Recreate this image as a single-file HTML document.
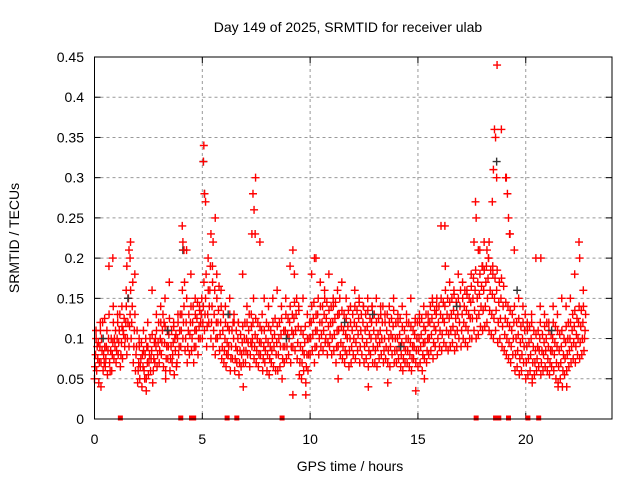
<!DOCTYPE html>
<html><head><meta charset="utf-8"><style>
body{margin:0;background:#fff;}
svg{display:block;font-family:"Liberation Sans",sans-serif;}
</style></head><body>
<svg id="chart" width="640" height="480">
<text x="348" y="32" text-anchor="middle" font-size="14">Day 149 of 2025, SRMTID for receiver ulab</text>
<text transform="translate(19,238) rotate(-90)" text-anchor="middle" font-size="14">SRMTID / TECUs</text>
<text x="350" y="471" text-anchor="middle" font-size="14">GPS time / hours</text>
<g id="grid"></g>
<g id="ticks"></g>
<g id="marks"></g>
<rect x="94.5" y="57" width="517.5" height="362" fill="none" stroke="#000" stroke-width="1"/>
</svg>
<script>
const xTicks=[0,5,10,15,20];
const yTicks=[0,0.05,0.1,0.15,0.2,0.25,0.3,0.35,0.4,0.45];
const yTickLabels=["0","0.05","0.1","0.15","0.2","0.25","0.3","0.35","0.4","0.45"];
const loVals=[.05,.06,.045,.07,.06,.065,.055,.07,.06,.075,.07,.08,.065,.075,.09,.08,.09,.1,.07,.06,
.045,.05,.04,.06,.05,.055,.06,.045,.07,.065,.07,.08,.065,.06,.075,.06,.07,.055,.065,.08,
.09,.1,.085,.07,.08,.085,.07,.09,.08,.1,.1,.11,.09,.12,.1,.09,.08,.1,.085,.075,
.07,.065,.08,.06,.075,.06,.07,.055,.065,.07,.07,.08,.065,.09,.075,.07,.065,.08,.06,.07,
.06,.055,.07,.065,.06,.06,.065,.05,.07,.075,.08,.07,.09,.085,.075,.055,.05,.06,.045,.06,
.08,.085,.07,.09,.08,.09,.085,.095,.08,.09,.08,.085,.07,.09,.08,.075,.07,.08,.065,.07,
.08,.075,.085,.07,.08,.07,.075,.065,.08,.07,.07,.065,.075,.08,.07,.075,.07,.065,.08,.07,
.07,.075,.065,.06,.07,.07,.065,.06,.075,.07,.065,.07,.06,.075,.07,.08,.085,.075,.09,.08,
.09,.085,.095,.09,.085,.09,.095,.085,.09,.1,.09,.1,.095,.09,.1,.1,.11,.1,.105,.115,
.11,.115,.12,.11,.105,.1,.11,.095,.1,.09,.085,.08,.075,.07,.08,.06,.065,.055,.06,.07,
.05,.055,.06,.05,.055,.06,.065,.055,.06,.065,.06,.055,.065,.06,.05,.045,.05,.04,.055,.06,
.065,.07,.075,.07,.08,.075,.08,.085];
const q1Vals=[.065,.09,.07,.1,.08,.075,.085,.06,.08,.1,.085,.095,.08,.11,.1,.1,.115,.12,.09,.08,
.06,.065,.08,.05,.09,.07,.075,.06,.1,.08,.085,.095,.12,.075,.09,.075,.08,.1,.07,.09,
.11,.12,.1,.09,.105,.1,.09,.11,.1,.12,.12,.13,.115,.14,.12,.11,.1,.12,.105,.09,
.085,.08,.09,.075,.12,.075,.085,.07,.08,.085,.085,.095,.08,.1,.09,.085,.08,.095,.075,.085,
.08,.075,.085,.09,.08,.08,.09,.075,.09,.09,.1,.09,.105,.11,.095,.07,.07,.08,.065,.08,
.1,.105,.09,.11,.1,.105,.11,.1,.095,.105,.1,.105,.09,.11,.095,.09,.085,.1,.085,.09,
.1,.095,.105,.09,.1,.09,.095,.085,.1,.09,.085,.09,.095,.1,.085,.09,.085,.09,.1,.085,
.085,.09,.08,.075,.085,.085,.08,.075,.09,.085,.085,.09,.08,.095,.085,.1,.105,.095,.11,.1,
.11,.105,.12,.11,.105,.11,.115,.105,.11,.12,.11,.12,.115,.11,.125,.125,.135,.125,.13,.14,
.135,.14,.15,.135,.13,.125,.135,.12,.125,.115,.105,.1,.095,.09,.1,.08,.085,.075,.08,.09,
.07,.075,.08,.07,.07,.075,.085,.07,.08,.085,.075,.07,.085,.08,.07,.065,.07,.06,.075,.08,
.085,.09,.095,.09,.1,.095,.1,.1];
const midVals=[.08,.075,.09,.085,.07,.09,.1,.085,.095,.09,.1,.11,.095,.105,.12,.12,.13,.14,.11,.09,
.07,.075,.065,.08,.07,.08,.085,.075,.09,.095,.1,.11,.095,.09,.105,.09,.095,.085,.1,.11,
.13,.14,.12,.11,.12,.12,.11,.125,.115,.13,.14,.15,.13,.16,.14,.13,.12,.135,.12,.11,
.1,.095,.11,.09,.1,.09,.1,.085,.095,.1,.1,.11,.095,.12,.105,.1,.095,.11,.09,.1,
.095,.09,.1,.105,.095,.1,.105,.09,.11,.105,.12,.11,.125,.13,.115,.09,.085,.095,.08,.1,
.12,.125,.11,.13,.12,.12,.13,.125,.115,.12,.12,.125,.11,.13,.115,.11,.105,.115,.1,.11,
.12,.115,.125,.11,.12,.11,.115,.105,.12,.11,.1,.105,.11,.12,.1,.11,.1,.105,.115,.1,
.1,.105,.095,.09,.1,.1,.095,.09,.105,.1,.1,.105,.095,.11,.1,.12,.125,.115,.13,.12,
.13,.125,.14,.13,.125,.13,.135,.125,.13,.14,.13,.14,.135,.13,.145,.15,.16,.15,.155,.165,
.16,.17,.175,.16,.155,.15,.16,.145,.15,.14,.125,.12,.115,.11,.12,.1,.105,.095,.1,.11,
.09,.095,.1,.09,.085,.09,.1,.085,.095,.1,.09,.085,.1,.095,.09,.085,.09,.08,.095,.1,
.1,.11,.115,.105,.12,.115,.12,.11];
const q3Vals=[.1,.095,.11,.12,.09,.11,.13,.1,.12,.11,.12,.13,.115,.125,.14,.15,.16,.17,.13,.11,
.09,.095,.085,.1,.09,.1,.105,.095,.11,.12,.12,.13,.115,.11,.125,.11,.115,.105,.12,.13,
.16,.17,.15,.13,.14,.14,.13,.145,.135,.15,.17,.18,.16,.19,.17,.16,.15,.165,.14,.13,
.12,.115,.13,.11,.12,.11,.12,.105,.115,.12,.12,.13,.115,.15,.125,.12,.115,.13,.11,.12,
.115,.11,.12,.125,.115,.12,.125,.11,.13,.125,.14,.13,.145,.15,.135,.11,.105,.115,.1,.12,
.14,.145,.13,.15,.14,.14,.15,.145,.135,.14,.14,.145,.13,.15,.135,.13,.125,.135,.12,.13,
.14,.135,.145,.13,.14,.13,.135,.125,.14,.13,.12,.125,.13,.14,.12,.13,.12,.125,.135,.12,
.12,.125,.115,.11,.12,.12,.115,.11,.125,.12,.12,.125,.115,.13,.12,.14,.145,.135,.15,.14,
.15,.145,.16,.15,.145,.15,.155,.145,.15,.16,.15,.16,.155,.15,.165,.175,.185,.17,.18,.19,
.185,.19,.2,.185,.18,.175,.185,.17,.175,.165,.145,.14,.135,.13,.14,.12,.125,.115,.12,.13,
.11,.115,.12,.11,.105,.11,.12,.105,.115,.12,.11,.105,.12,.115,.11,.105,.11,.1,.115,.12,
.12,.13,.135,.125,.14,.135,.14,.13];
const hiVals=[.11,.12,.125,.19,.14,.13,.14,.16,.22,.18,
.1,.11,.12,.16,.13,.14,.15,.17,.12,.13,
.24,.21,.18,.15,.14,.34,.2,.19,.18,.16,
.14,.15,.13,.12,.18,.14,.13,.3,.22,.15,
.14,.15,.16,.14,.15,.19,.18,.14,.15,.13,
.18,.2,.17,.16,.18,.15,.16,.17,.15,.14,
.16,.15,.14,.15,.14,.15,.14,.13,.14,.15,
.13,.14,.13,.15,.12,.13,.14,.13,.15,.14,
.24,.19,.17,.16,.18,.17,.16,.18,.27,.21,
.22,.2,.19,.44,.36,.3,.23,.21,.15,.14,
.12,.13,.2,.14,.13,.12,.14,.13,.15,.14,
.15,.18,.22,.16];
const extraT=[5.05,5.1,5.15,4.1,4.15,1.6,1.65,1.5,7.35,7.4,7.45,7.3,5.5,5.6,5.4,16.25,17.7,17.6,17.8,18.55,18.6,18.65,18.5,18.45,19.1,19.15,19.2,19.25,18.2,18.3,18.0,9.2,10.2,22.5,20.7,0.85,9.2,9.8,2.4,14.9,21.5,0.3,3.3,6.9,11.3,12.7,13.6,15.3,20.3,21.9];
const extraV=[.32,.28,.27,.22,.21,.21,.2,.19,.28,.26,.23,.23,.22,.25,.23,.24,.25,.22,.21,.36,.35,.3,.31,.27,.3,.28,.25,.23,.21,.22,.19,.21,.2,.2,.2,.2,.03,.03,.035,.035,.04,.04,.05,.04,.05,.04,.045,.05,.045,.04];
const blackT=[5.05,5.1,18.65,4.1,1.55,3.4,6.2,8.9,11.6,14.2,16.8,19.6,21.2,0.4,12.9];
const blackV=[.32,.28,.32,.21,.15,.11,.13,.1,.12,.09,.14,.16,.11,.1,.13];
const zeroT=[1.2,4.0,4.5,4.6,6.15,6.6,8.7,17.7,18.6,18.75,19.2,20.1,20.6];

const X0=94.5,X1=612,Y0=419,Y1=57,XMAX=24,YMAX=0.45;
const xs=t=>X0+(X1-X0)*t/XMAX;
const ys=v=>Y0-(Y0-Y1)*v/YMAX;
const NS="http://www.w3.org/2000/svg";
const grid=document.getElementById('grid'),ticks=document.getElementById('ticks'),marks=document.getElementById('marks');
function mk(tag,attrs,parent){const e=document.createElementNS(NS,tag);for(const k in attrs)e.setAttribute(k,attrs[k]);parent.appendChild(e);return e;}
xTicks.forEach(t=>{
  const x=xs(t);
  if(t>0){const g=mk('line',{x1:x,x2:x,y1:Y1,y2:Y0,stroke:'#999','stroke-dasharray':'3,3'},grid);
  
  }
  mk('line',{x1:x,x2:x,y1:Y0,y2:Y0-6,stroke:'#000'},ticks);
  mk('line',{x1:x,x2:x,y1:Y1,y2:Y1+6,stroke:'#000'},ticks);
  const l=mk('text',{x:x,y:444,'text-anchor':'middle','font-size':'14'},ticks);
  l.textContent=t;
  
  
});
yTicks.forEach((v,i)=>{
  const y=ys(v);
  if(i>0&&i<yTicks.length-1){const g=mk('line',{x1:X0,x2:X1,y1:y,y2:y,stroke:'#999','stroke-dasharray':'3,3'},grid);
  
  }
  mk('line',{x1:X0,x2:X0+6,y1:y,y2:y,stroke:'#000'},ticks);
  mk('line',{x1:X1,x2:X1-6,y1:y,y2:y,stroke:'#000'},ticks);
  const l=mk('text',{x:84,y:y+5,'text-anchor':'end','font-size':'14'},ticks);
  l.textContent=yTickLabels[i];
  
  
});
function plus(t,v,color){
  const x=xs(t),y=ys(v);
  const p=mk('path',{d:`M${x-4},${y}H${x+4}M${x},${y-4}V${y+4}`,stroke:color,'stroke-width':'1.4',fill:'none'},marks);
  
  
}
loVals.forEach((v,i)=>plus(i*0.1,v,'#f00'));
q1Vals.forEach((v,i)=>plus(i*0.1+0.025,v,'#f00'));
midVals.forEach((v,i)=>plus(i*0.1+0.05,v,'#f00'));
q3Vals.forEach((v,i)=>plus(i*0.1+0.075,v,'#f00'));
hiVals.forEach((v,i)=>plus(i*0.2+0.07,v,'#f00'));
blackT.forEach((t,i)=>plus(t,blackV[i],'#333'));
extraT.forEach((t,i)=>plus(t,extraV[i],'#f00'));
zeroT.forEach(t=>{
  const r=mk('rect',{x:xs(t)-2.5,y:Y0-3.5,width:5,height:5,fill:'#f00'},marks);
  
  
});
</script>
</body></html>
